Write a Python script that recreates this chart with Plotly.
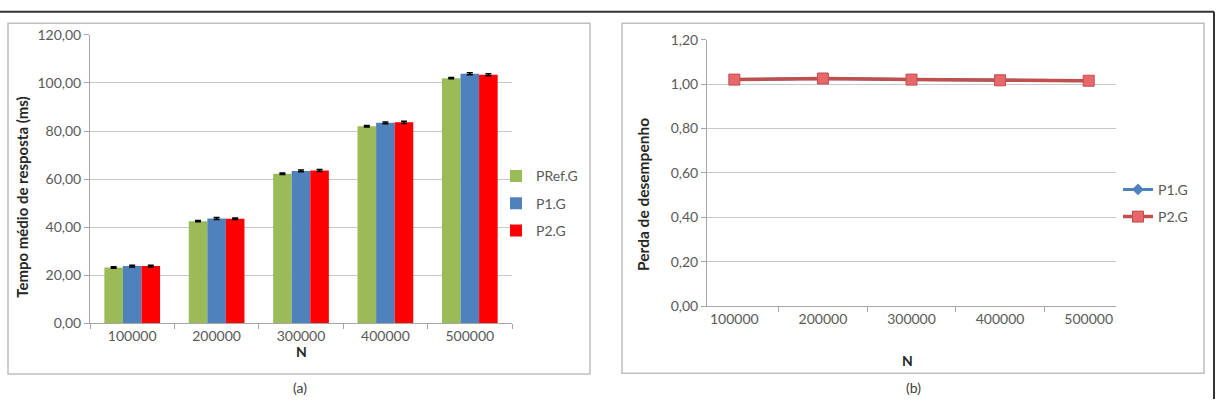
import plotly.graph_objects as go

W, H = 1221, 407

categories = ["100000", "200000", "300000", "400000", "500000"]
pref_g = [23.2, 42.5, 62.2, 82.0, 102.0]
p1_g = [23.8, 43.6, 63.4, 83.4, 103.8]
p2_g = [23.8, 43.5, 63.6, 83.6, 103.4]
err_pref = [0.3, 0.3, 0.3, 0.3, 0.3]
err_p1 = [0.4, 0.4, 0.4, 0.4, 0.4]
err_p2 = [0.4, 0.3, 0.4, 0.5, 0.4]

loss_p1 = [1.02, 1.025, 1.02, 1.017, 1.015]
loss_p2 = [1.02, 1.025, 1.02, 1.017, 1.015]

bar_colors = ["#9BBB59", "#4F81BD", "#FF0000"]
FONT = "Lato"
TICKC = "#595959"
GRID = "#C8C8C8"


def px(x):
    return x / W


def py(y):
    return 1 - y / H


fig = go.Figure()

for name, vals, err, col in [
    ("PRef.G", pref_g, err_pref, bar_colors[0]),
    ("P1.G", p1_g, err_p1, bar_colors[1]),
    ("P2.G", p2_g, err_p2, bar_colors[2]),
]:
    fig.add_trace(go.Bar(
        x=categories, y=vals, name=name, marker_color=col, marker_line_width=0,
        error_y=dict(type="data", array=err, color="#000000", thickness=1.5, width=3),
        xaxis="x", yaxis="y", legend="legend", legendgroup="a" + name,
    ))

fig.add_trace(go.Scatter(
    x=categories, y=loss_p1, name="P1.G", mode="lines+markers",
    line=dict(color="#4F81BD", width=3),
    marker=dict(symbol="diamond", size=9, color="#4F81BD"),
    xaxis="x2", yaxis="y2", legend="legend2", legendgroup="b1",
))
fig.add_trace(go.Scatter(
    x=categories, y=loss_p2, name="P2.G", mode="lines+markers",
    line=dict(color="#C0504D", width=3.5),
    marker=dict(symbol="square", size=11, color="#E8676A",
                line=dict(color="#C0504D", width=1)),
    xaxis="x2", yaxis="y2", legend="legend2", legendgroup="b2",
))

axis_common = dict(
    showline=True, linecolor="#A6A6A6", linewidth=1,
    tickfont=dict(family=FONT, size=14, color=TICKC),
    ticks="outside", tickcolor="#A6A6A6", ticklen=5,
)

fig.update_layout(
    width=W, height=H,
    margin=dict(l=0, r=0, t=0, b=0),
    paper_bgcolor="white", plot_bgcolor="white",
    separators=",.",
    barmode="group", bargap=0.34, bargroupgap=0,
    showlegend=True,
    font=dict(family=FONT, color=TICKC),
    xaxis=dict(domain=[px(90), px(512)], anchor="y", type="category",
               tickson="boundaries", showgrid=False, **axis_common),
    yaxis=dict(domain=[py(328), py(27)], anchor="x", range=[0, 120], dtick=20,
               tickformat=".2f", showgrid=True, gridcolor=GRID, gridwidth=1,
               zeroline=False, **axis_common),
    xaxis2=dict(domain=[px(707), px(1116)], anchor="y2", type="category",
                tickson="boundaries", showgrid=False, **axis_common),
    yaxis2=dict(domain=[py(310), py(32)], anchor="x2", range=[0, 1.2], dtick=0.2,
                tickformat=".2f", showgrid=True, gridcolor=GRID, gridwidth=1,
                zeroline=False, **axis_common),
    legend=dict(x=px(496), y=py(158), xanchor="left", yanchor="top",
                font=dict(family=FONT, size=14, color=TICKC),
                traceorder="grouped", tracegroupgap=6,
                itemwidth=30, bgcolor="rgba(0,0,0,0)"),
    legend2=dict(x=px(1118), y=py(172), xanchor="left", yanchor="top",
                 font=dict(family=FONT, size=14, color=TICKC),
                 traceorder="grouped", tracegroupgap=6,
                 itemwidth=30, bgcolor="rgba(0,0,0,0)"),
)

shapes = [
    dict(type="rect", xref="paper", yref="paper", x0=px(8), x1=px(590),
         y0=py(381), y1=py(15), line=dict(color="#BFBFBF", width=1.5)),
    dict(type="rect", xref="paper", yref="paper", x0=px(622), x1=px(1204),
         y0=py(380), y1=py(15), line=dict(color="#BFBFBF", width=1.5)),
    dict(type="line", xref="paper", yref="paper", x0=0, x1=px(1214),
         y0=py(3), y1=py(3), line=dict(color="#333333", width=2)),
    dict(type="line", xref="paper", yref="paper", x0=px(1214), x1=px(1214),
         y0=py(3), y1=0, line=dict(color="#333333", width=2)),
]
fig.update_layout(shapes=shapes)

annotations = [
    dict(text="<b>Tempo médio de resposta (ms)</b>", x=px(22), y=py(197),
         textangle=-90, font=dict(family=FONT, size=15, color="#262626")),
    dict(text="<b>N</b>", x=px(301), y=py(357), font=dict(family=FONT, size=14, color="#262626")),
    dict(text="<b>Perda de desempenho</b>", x=px(643), y=py(194),
         textangle=-90, font=dict(family=FONT, size=15.5, color="#262626")),
    dict(text="<b>N</b>", x=px(907), y=py(367), font=dict(family=FONT, size=14, color="#262626")),
    dict(text="(a)", x=px(300), y=py(395), font=dict(family=FONT, size=14, color="#404040")),
    dict(text="(b)", x=px(913), y=py(395), font=dict(family=FONT, size=14, color="#404040")),
]
for a in annotations:
    a.update(xref="paper", yref="paper", showarrow=False, xanchor="center", yanchor="middle")
fig.update_layout(annotations=annotations)

fig.write_html("out.html")

with open("out.html", encoding="utf-8") as f:
    html = f.read()
html = html.replace("<head>", "<head><style>html,body{margin:0;padding:0;overflow:hidden;}</style>", 1)
with open("out.html", "w", encoding="utf-8") as f:
    f.write(html)
